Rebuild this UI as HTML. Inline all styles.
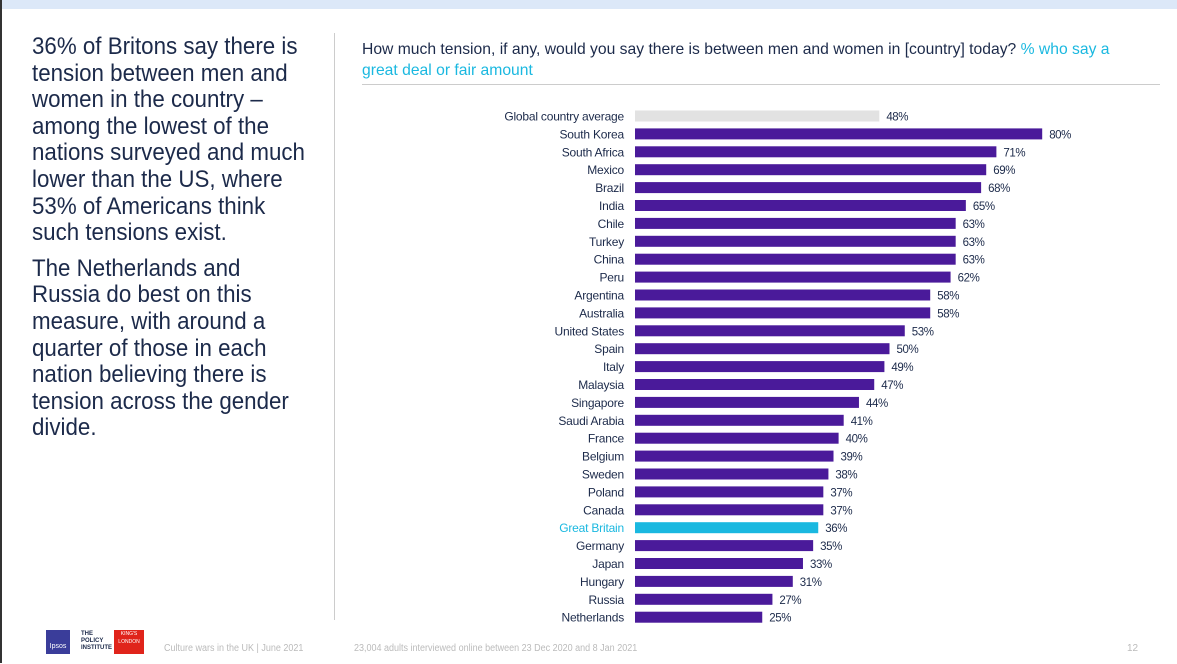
<!DOCTYPE html>
<html><head><meta charset="utf-8"><style>
body{margin:0;width:1177px;height:663px;background:#fff;position:relative;overflow:hidden;font-family:"Liberation Sans",sans-serif}
.abs{position:absolute}
</style></head><body>
<div class="abs" style="left:0;top:0;width:1177px;height:9px;background:#dce8f8"></div>
<div class="abs" style="left:0;top:0;width:2px;height:663px;background:#333"></div>
<div class="abs" style="left:32px;top:34px;white-space:nowrap;font-size:24px;line-height:26.6px;color:#1c2a4a;transform:scaleX(0.93);transform-origin:0 0">
<p style="margin:0 0 9px">36% of Britons say there is<br>tension between men and<br>women in the country –<br>among the lowest of the<br>nations surveyed and much<br>lower than the US, where<br>53% of Americans think<br>such tensions exist.</p>
<p style="margin:0">The Netherlands and<br>Russia do best on this<br>measure, with around a<br>quarter of those in each<br>nation believing there is<br>tension across the gender<br>divide.</p>
</div>
<div class="abs" style="left:334px;top:33px;width:1px;height:587px;background:#ccc"></div>
<div class="abs" style="left:362px;top:39px;white-space:nowrap;font-size:16px;line-height:21px;color:#1c2a4a;transform:scaleX(0.98);transform-origin:0 0">How much tension, if any, would you say there is between men and women in [country] today? <span style="color:#1ab8e0">% who say a<br>great deal or fair amount</span></div>
<div class="abs" style="left:362px;top:84px;width:798px;height:1px;background:#ccc"></div>
<svg class="abs" style="left:0;top:0" width="1177" height="663" id="chart"></svg>
<div class="abs" style="left:46px;top:630px;width:100px;height:24px">
<div style="position:absolute;left:0;top:0;width:24px;height:24px;background:#3a3d9a;color:#fff;font-size:7px;text-align:center;line-height:34px">Ipsos</div>
<div style="position:absolute;left:35px;top:1px;width:30px;font-size:6px;font-weight:bold;line-height:7px;color:#1c2a4a">THE POLICY INSTITUTE</div>
<div style="position:absolute;left:68px;top:0;width:30px;height:24px;background:#e0241b;color:#fff;font-size:5px;text-align:center;line-height:8px">KING'S LONDON</div>
</div>
<div class="abs" style="left:164px;top:643px;font-size:10px;color:#bbb;transform:scaleX(0.9);transform-origin:0 0">Culture wars in the UK | June 2021</div>
<div class="abs" style="left:354px;top:643px;font-size:10px;color:#bbb;transform:scaleX(0.9);transform-origin:0 0">23,004 adults interviewed online between 23 Dec 2020 and 8 Jan 2021</div>
<div class="abs" style="left:1127px;top:643px;font-size:10px;color:#bbb">12</div>
<script>
const categories=["Global country average","South Korea","South Africa","Mexico","Brazil","India","Chile","Turkey","China","Peru","Argentina","Australia","United States","Spain","Italy","Malaysia","Singapore","Saudi Arabia","France","Belgium","Sweden","Poland","Canada","Great Britain","Germany","Japan","Hungary","Russia","Netherlands"];
const values=[48,80,71,69,68,65,63,63,63,62,58,58,53,50,49,47,44,41,40,39,38,37,37,36,35,33,31,27,25];
const valueLabels=values.map(v=>v+"%");
const svg=document.getElementById('chart');
const NS="http://www.w3.org/2000/svg";
const x0=635, pxPer=5.09, y0=116, step=17.9, bh=11;
const xs=v=>x0+v*pxPer;
const ys=i=>y0+i*step;
categories.forEach((c,i)=>{
  const col=i===0?"#e2e2e2":(c==="Great Britain"?"#1ab8e0":"#4a1a9a");
  const r=document.createElementNS(NS,'rect');
  r.setAttribute('x',x0);r.setAttribute('y',ys(i)-bh/2);
  r.setAttribute('width',xs(values[i])-x0);r.setAttribute('height',bh);
  r.setAttribute('fill',col);
  
  
  svg.appendChild(r);
  const t=document.createElementNS(NS,'text');
  t.setAttribute('x',624);t.setAttribute('y',ys(i)+4.5);
  t.setAttribute('text-anchor','end');t.setAttribute('font-size','12');
  t.setAttribute('letter-spacing','-0.2');
  t.setAttribute('font-family','"Liberation Sans",sans-serif');
  t.setAttribute('fill',c==="Great Britain"?"#1ab8e0":"#1c2a4a");
  t.textContent=c;
  
  
  svg.appendChild(t);
  const v=document.createElementNS(NS,'text');
  v.setAttribute('x',xs(values[i])+7);v.setAttribute('y',ys(i)+4.5);
  v.setAttribute('font-size','11.5');
  v.setAttribute('letter-spacing','-0.4');
  v.setAttribute('font-family','"Liberation Sans",sans-serif');
  v.setAttribute('fill','#1c2a4a');
  v.textContent=valueLabels[i];
  
  
  svg.appendChild(v);
});
</script>
</body></html>
